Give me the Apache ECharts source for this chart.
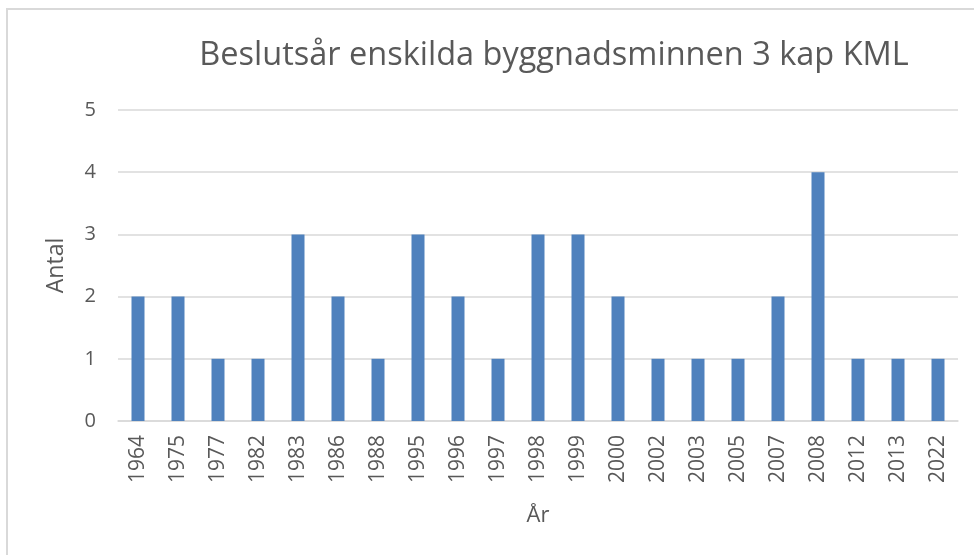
<!DOCTYPE html>
<html>
<head>
<meta charset="utf-8">
<script src="https://cdn.jsdelivr.net/npm/echarts@6/dist/echarts.min.js"></script>
<style>
html,body{margin:0;padding:0;background:#fff;}
#main{width:974px;height:555px;}
</style>
</head>
<body>
<div id="main"></div>
<script>
// Beslutsår per år
var ar = ['1964','1975','1977','1982','1983','1986','1988','1995','1996','1997','1998','1999','2000','2002','2003','2005','2007','2008','2012','2013','2022'];
var antal = [2,2,1,1,3,2,1,3,2,1,3,3,2,1,1,1,2,4,1,1,1];

var myChar = echarts.init(document.getElementById('main'));
var grå = '#595959';
var option = {
	backgroundColor: '#fff',
	animation: false,
	graphic: [{
		type: 'rect',
		shape: {x: 7, y: 9, width: 1000, height: 1000},
		style: {fill: 'none', stroke: '#d9d9d9', lineWidth: 2}
	}],
	title: {
		text: 'Beslutsår enskilda byggnadsminnen 3 kap KML',
		left: 549,
		textAlign: 'center',
		top: 34,
		textStyle: {
			color: grå,
			fontFamily: 'Open Sans',
			fontWeight: 'normal',
			fontSize: 32.5
		}
	},
	grid: {
		left: 118,
		right: 16,
		top: 110,
		bottom: 134
	},
	xAxis: {
		type: 'category',
		data: ar,
		name: 'År',
		nameLocation: 'middle',
		nameGap: 84,
		nameTextStyle: {color: grå, fontSize: 22, fontFamily: 'Open Sans'},
		axisLine: {lineStyle: {color: '#d9d9d9', width: 1.5}},
		axisTick: {show: false},
		axisLabel: {rotate: 90, color: grå, fontSize: 21, fontFamily: 'Open Sans', margin: 14, interval: 0}
	},
	yAxis: {
		type: 'value',
		min: 0,
		max: 5,
		interval: 1,
		name: 'Antal',
		nameLocation: 'middle',
		nameGap: 50,
		nameTextStyle: {color: grå, fontSize: 23, fontFamily: 'Open Sans'},
		axisLine: {show: false},
		axisTick: {show: false},
		splitLine: {lineStyle: {color: '#d9d9d9', width: 1.5}},
		axisLabel: {color: grå, fontSize: 20, fontFamily: 'Open Sans', margin: 22}
	},
	series: [{
		name: 'Antal',
		type: 'bar',
		data: antal,
		barWidth: 13,
		itemStyle: {color: '#4f81bd'}
	}]
};
myChar.setOption(option);
</script>
</body>
</html>
